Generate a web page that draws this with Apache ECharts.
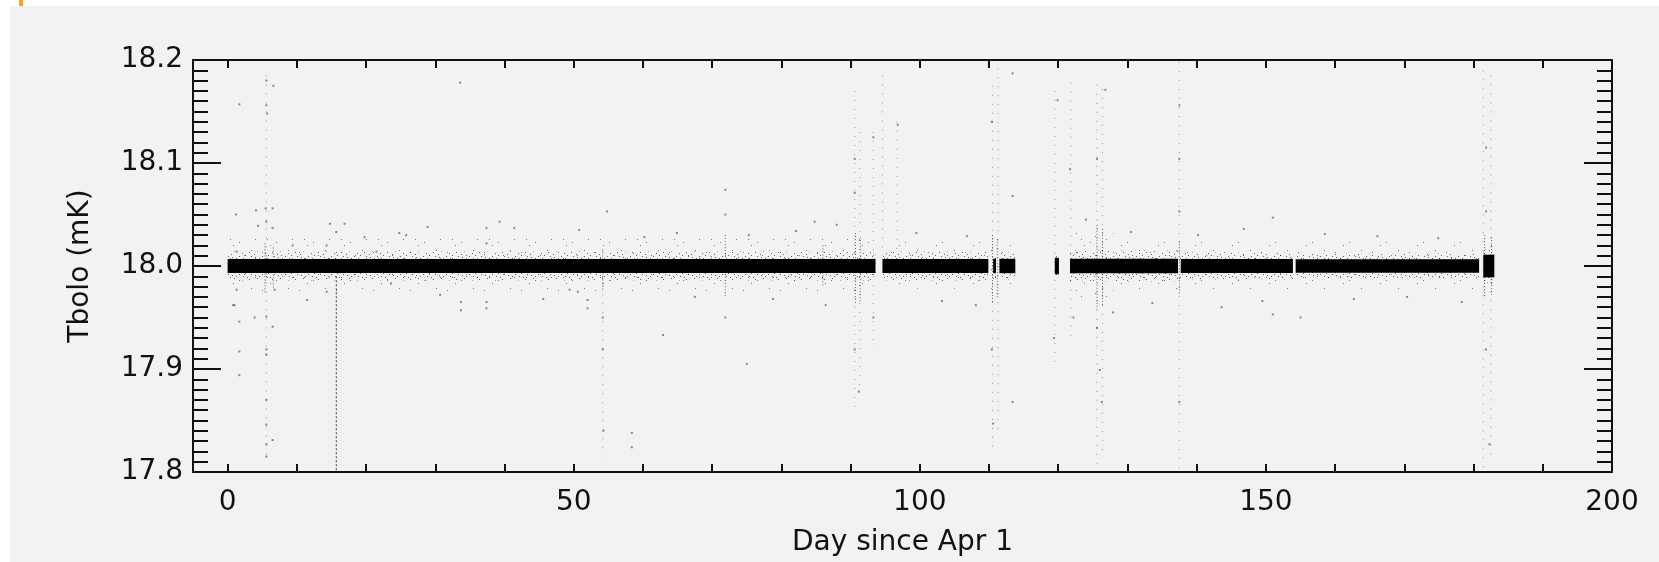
<!DOCTYPE html>
<html>
<head>
<meta charset="utf-8">
<script src="https://cdn.jsdelivr.net/npm/echarts@6/dist/echarts.min.js"></script>
<style>
  html, body { margin: 0; padding: 0; background: #ffffff; }
  #chart { width: 1659px; height: 562px; }
</style>
</head>
<body>
<div id="chart"></div>
<script>
// Axis ticks and labels
const xLabelValues = [0, 50, 100, 150, 200];
const xTickValues = [0, 10, 20, 30, 40, 50, 60, 70, 80, 90, 100, 110, 120, 130, 140, 150, 160, 170, 180, 190, 200];
const yLabelValues = [17.8, 17.9, 18.0, 18.1, 18.2];
const yMinorTickValues = [
  17.80, 17.81, 17.82, 17.83, 17.84, 17.85, 17.86, 17.87, 17.88, 17.89,
  17.90, 17.91, 17.92, 17.93, 17.94, 17.95, 17.96, 17.97, 17.98, 17.99,
  18.00, 18.01, 18.02, 18.03, 18.04, 18.05, 18.06, 18.07, 18.08, 18.09,
  18.10, 18.11, 18.12, 18.13, 18.14, 18.15, 18.16, 18.17, 18.18, 18.19, 18.20
];

// Dense core of the bolometer temperature trace: [startDay, endDay, low, high] in mK
const bandCore = [
  [0.0, 93.6, 17.9932, 18.0068],
  [94.6, 109.9, 17.9932, 18.0068],
  [110.6, 111.0, 17.993, 18.007],
  [111.5, 113.8, 17.993, 18.007],
  [119.5, 120.1, 17.992, 18.008],
  [121.7, 137.3, 17.993, 18.007],
  [137.7, 153.9, 17.9932, 18.0068],
  [154.3, 180.8, 17.9934, 18.0066],
  [181.4, 183.0, 17.989, 18.011]
];

// Speckled scatter hugging the core
const bandInnerFringe = [
  [0.0, 93.6, 17.986, 18.014],
  [94.6, 109.9, 17.986, 18.014],
  [110.6, 111.0, 17.987, 18.013],
  [111.5, 113.8, 17.987, 18.013],
  [119.5, 120.1, 17.987, 18.013],
  [121.7, 137.3, 17.985, 18.015],
  [137.7, 153.9, 17.987, 18.013],
  [154.3, 180.8, 17.988, 18.012],
  [181.4, 183.0, 17.984, 18.016]
];

// Sparse outer scatter
const bandOuterFringe = [
  [0.0, 93.6, 17.975, 18.027],
  [94.6, 113.8, 17.978, 18.024],
  [121.7, 128.0, 17.968, 18.032],
  [128.0, 180.8, 17.977, 18.024],
  [181.4, 183.0, 17.975, 18.025]
];

// Deep downward excursion near day 16
const dipStreak = [[15.7, 17.990, 17.800]];

// Short dense whiskers of samples just off the core: [day, top, bottom]
const whiskers = [
  [5.4, 18.022, 17.974],
  [6.6, 18.018, 17.978],
  [54.2, 18.016, 17.975],
  [71.9, 18.030, 17.970],
  [86.0, 18.020, 17.980],
  [90.7, 18.032, 17.962],
  [91.4, 18.028, 17.966],
  [110.5, 18.030, 17.965],
  [111.2, 18.026, 17.968],
  [125.6, 18.040, 17.958],
  [126.4, 18.036, 17.962],
  [137.5, 18.024, 17.972],
  [181.6, 18.030, 17.970],
  [182.6, 18.028, 17.972]
];

// Faint vertical trails of samples: [day, top, bottom]
const streaks = [
  [5.6, 18.185, 17.812],
  [54.2, 17.990, 17.815],
  [90.6, 18.170, 17.860],
  [91.3, 18.130, 17.880],
  [93.3, 18.130, 17.920],
  [94.6, 18.185, 18.010],
  [96.7, 18.140, 18.010],
  [110.5, 18.175, 17.820],
  [111.3, 18.192, 17.840],
  [119.5, 18.170, 17.900],
  [121.8, 18.178, 17.930],
  [125.6, 18.176, 17.800],
  [126.4, 18.172, 17.820],
  [137.5, 18.198, 17.800],
  [181.4, 18.190, 17.800],
  [182.5, 18.185, 17.810]
];

// Isolated samples away from the core: [day, Tbolo]
const outliers = [
  [1.2, 18.050], [4.1, 18.054], [5.5, 18.056], [6.5, 18.056], [5.6, 18.043],
  [1.7, 17.946], [3.9, 17.950], [5.6, 17.951], [6.5, 17.941], [1.0, 17.962],
  [1.7, 17.917], [5.6, 17.914], [1.7, 17.894], [5.6, 17.870], [5.6, 17.846],
  [6.5, 17.831], [5.6, 17.815], [5.6, 18.180], [6.6, 18.175], [1.7, 18.157],
  [5.6, 18.156], [5.7, 18.148], [54.3, 17.840], [58.4, 17.838], [58.4, 17.824],
  [6.5, 18.037], [4.4, 18.039], [15.7, 18.033], [16.9, 18.041], [14.8, 18.041],
  [24.8, 18.032], [25.8, 18.030], [28.9, 18.038], [37.4, 18.037], [39.3, 18.043],
  [41.4, 18.037], [50.8, 18.035], [37.4, 18.022], [9.4, 18.020], [14.3, 18.020],
  [21.5, 18.014], [1.3, 18.014], [14.3, 17.975], [1.3, 17.977], [6.8, 17.977],
  [33.7, 17.965], [33.7, 17.957], [37.4, 17.965], [37.4, 17.959], [52.0, 17.967],
  [52.0, 17.959], [49.4, 17.977], [50.6, 17.975], [23.6, 17.983], [0.8, 17.962],
  [33.6, 18.178], [54.8, 18.053], [64.9, 18.032], [71.9, 18.074], [71.9, 18.050],
  [84.8, 18.043], [90.6, 18.104], [90.6, 18.071], [93.3, 18.125], [96.8, 18.137],
  [110.4, 18.140], [113.4, 18.187], [113.4, 18.068], [119.9, 18.161], [121.7, 18.094],
  [125.6, 18.104], [126.8, 18.171], [137.5, 18.156], [137.5, 18.104], [137.5, 18.053],
  [181.8, 18.115], [181.8, 18.053], [5.6, 17.919], [5.6, 17.827], [54.2, 17.950],
  [54.2, 17.919], [71.9, 17.950], [90.6, 17.919], [91.2, 17.878], [93.3, 17.950],
  [110.4, 17.919], [110.6, 17.847], [113.4, 17.868], [119.4, 17.930], [122.2, 17.950],
  [125.6, 17.940], [126.0, 17.899], [126.3, 17.868], [137.5, 17.868], [143.6, 17.960],
  [155.0, 17.950], [181.8, 17.919], [182.3, 17.827], [60.2, 18.028], [67.5, 17.970],
  [75.3, 18.030], [78.8, 17.968], [82.1, 18.034], [86.4, 17.962], [88.0, 18.040],
  [99.5, 18.032], [103.2, 17.966], [106.8, 18.029], [108.1, 17.962], [124.0, 18.045],
  [127.9, 17.955], [130.5, 18.033], [133.6, 17.964], [140.2, 18.030], [146.8, 18.036],
  [149.5, 17.966], [151.0, 18.047], [151.0, 17.953], [158.5, 18.031], [162.7, 17.968],
  [166.1, 18.029], [170.4, 17.970], [174.9, 18.027], [178.3, 17.965], [45.6, 17.968],
  [30.7, 17.972], [19.8, 18.028], [11.5, 17.967], [62.9, 17.933], [75.0, 17.905]
];

const chart = echarts.init(document.getElementById('chart'), null, { renderer: 'canvas' });

const FONT = '"DejaVu Sans", "Liberation Sans", sans-serif';
const INK = '#111111';

// Small stipple tiles used to texture the scatter around the core
function stippleTile(w, h, dots, alpha) {
  const c = document.createElement('canvas');
  c.width = w; c.height = h;
  const ctx = c.getContext('2d');
  ctx.fillStyle = 'rgba(0,0,0,' + alpha + ')';
  dots.forEach(function (d) { ctx.fillRect(d[0], d[1], 1, 1); });
  return { image: c, repeat: 'repeat' };
}
const innerStipple = stippleTile(23, 9,
  [[1, 2], [6, 6], [12, 1], [17, 7], [21, 4], [4, 8], [9, 4], [15, 3], [19, 0], [13, 6], [2, 5]], 0.6);
const outerStipple = stippleTile(37, 19,
  [[3, 5], [17, 14], [29, 3], [11, 17], [33, 11], [22, 8], [8, 11]], 0.5);

function bandRenderer(fill) {
  return function (params, api) {
    const p0 = api.coord([api.value(0), api.value(3)]);
    const p1 = api.coord([api.value(1), api.value(2)]);
    return {
      type: 'rect',
      shape: { x: p0[0], y: p0[1], width: Math.max(1, p1[0] - p0[0]), height: p1[1] - p0[1] },
      style: { fill: fill }
    };
  };
}

function streakRenderer(stroke, dash, width) {
  return function (params, api) {
    const top = api.coord([api.value(0), api.value(1)]);
    const bottom = api.coord([api.value(0), api.value(2)]);
    return {
      type: 'line',
      shape: { x1: top[0], y1: top[1], x2: bottom[0], y2: bottom[1] },
      style: { stroke: stroke, lineWidth: width, lineDash: dash }
    };
  };
}

const xAxisBase = {
  type: 'value',
  min: -5,
  max: 200,
  axisLine: { show: true, onZero: false, lineStyle: { color: INK, width: 2 } },
  axisTick: { show: true, inside: true, length: 8, customValues: xTickValues, lineStyle: { color: INK, width: 2 } },
  splitLine: { show: false }
};

const yAxisBase = {
  type: 'value',
  min: 17.8,
  max: 18.2,
  axisLine: { show: true, onZero: false, lineStyle: { color: INK, width: 2 } },
  axisTick: { show: true, inside: true, length: 28, customValues: yLabelValues, lineStyle: { color: INK, width: 2 } },
  splitLine: { show: false }
};

const yMinorBase = {
  type: 'value',
  min: 17.8,
  max: 18.2,
  axisLine: { show: false, onZero: false },
  axisTick: { show: true, inside: true, length: 15, customValues: yMinorTickValues, lineStyle: { color: INK, width: 2 } },
  axisLabel: { show: false },
  splitLine: { show: false }
};

const option = {
  backgroundColor: '#ffffff',
  animation: false,
  graphic: [
    { type: 'rect', z: -100, shape: { x: 10, y: 6, width: 1649, height: 556 }, style: { fill: '#f2f2f2' } },
    { type: 'rect', z: -99, shape: { x: 19, y: 0, width: 4, height: 6 }, style: { fill: '#e9a919' } }
  ],
  grid: { left: 193, top: 60, right: 47, bottom: 90, show: false, containLabel: false, outerBoundsMode: 'none' },
  xAxis: [
    Object.assign({}, xAxisBase, {
      position: 'bottom',
      name: 'Day since Apr 1',
      nameLocation: 'middle',
      nameGap: 57,
      nameTextStyle: { fontFamily: FONT, fontSize: 28, color: INK },
      axisLabel: {
        show: true, margin: 17, customValues: xLabelValues,
        fontFamily: FONT, fontSize: 28, color: INK,
        formatter: function (v) { return String(v); }
      }
    }),
    Object.assign({}, xAxisBase, { position: 'top', axisLabel: { show: false } })
  ],
  yAxis: [
    Object.assign({}, yAxisBase, {
      position: 'left',
      name: 'Tbolo (mK)',
      nameLocation: 'middle',
      nameGap: 98,
      nameTextStyle: { fontFamily: FONT, fontSize: 28, color: INK },
      axisLabel: {
        show: true, margin: 10, fontFamily: FONT, fontSize: 28, color: INK,
        customValues: yLabelValues,
        formatter: function (v) { return Number(v).toFixed(1); }
      }
    }),
    Object.assign({}, yAxisBase, { position: 'right', axisLabel: { show: false } }),
    Object.assign({}, yMinorBase, { position: 'left', offset: 0 }),
    Object.assign({}, yMinorBase, { position: 'right', offset: 0 })
  ],
  series: [
    {
      type: 'custom', name: 'outer', data: bandOuterFringe, silent: true, z: 2,
      encode: { x: [0, 1], y: [2, 3] },
      renderItem: bandRenderer(outerStipple)
    },
    {
      type: 'custom', name: 'inner', data: bandInnerFringe, silent: true, z: 3,
      encode: { x: [0, 1], y: [2, 3] },
      renderItem: bandRenderer(innerStipple)
    },
    {
      type: 'custom', name: 'streaks', data: streaks, silent: true, z: 3,
      encode: { x: 0, y: [1, 2] },
      renderItem: streakRenderer('rgba(0,0,0,0.4)', [1, 8], 1)
    },
    {
      type: 'custom', name: 'whiskers', data: whiskers, silent: true, z: 4,
      encode: { x: 0, y: [1, 2] },
      renderItem: streakRenderer('rgba(0,0,0,0.6)', [1, 2], 1)
    },
    {
      type: 'custom', name: 'dip', data: dipStreak, silent: true, z: 4,
      encode: { x: 0, y: [1, 2] },
      renderItem: streakRenderer('rgba(0,0,0,0.75)', [2, 2], 1)
    },
    {
      type: 'scatter', name: 'outliers', data: outliers, silent: true, z: 4,
      symbol: 'rect', symbolSize: 2,
      itemStyle: { color: 'rgba(0,0,0,0.55)' }
    },
    {
      type: 'custom', name: 'core', data: bandCore, silent: true, z: 5,
      encode: { x: [0, 1], y: [2, 3] },
      renderItem: bandRenderer('#000000')
    }
  ]
};

chart.setOption(option);
</script>
</body>
</html>
